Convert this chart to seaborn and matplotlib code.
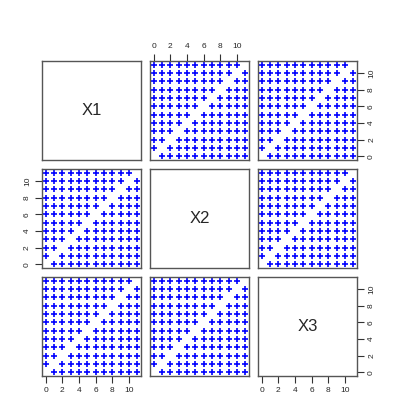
import pandas as pd
import seaborn as sns
import matplotlib
matplotlib.use('Agg')
import matplotlib.pyplot as plt

# variable names on the diagonal
var_names = ['X1', 'X2', 'X3']

# values on each axis
levels = [0, 1, 2, 3, 4, 5, 6, 7, 8, 9, 10, 11]

# cells left empty in every scatter panel (the diagonal)
gap_x = [0, 1, 2, 3, 4, 5, 6, 7, 8, 9, 10, 11]
gap_y = [0, 1, 2, 3, 4, 5, 6, 7, 8, 9, 10, 11]

tick_vals = [0, 2, 4, 6, 8, 10]

# build the point table from the grid minus the gaps
grid = pd.MultiIndex.from_product([levels, levels], names=['x', 'y']).to_frame(index=False)
gaps = pd.DataFrame({'x': gap_x, 'y': gap_y})
pts = grid.merge(gaps, how='left', indicator=True)
pts = pts[pts['_merge'] == 'left_only'][['x', 'y']]

sns.set_style('white')
plt.rcParams['font.family'] = ['Liberation Sans', 'DejaVu Sans']

fig = plt.figure(figsize=(4, 4.2), dpi=100)

lefts = [42, 150, 258]
tops = [61, 169, 277]
size = 99

for i in range(3):
    for j in range(3):
        ax = fig.add_axes([lefts[j] / 400, (420 - tops[i] - size) / 420, size / 400, size / 420])
        ax.set_xlim(-0.44, 11.44)
        ax.set_ylim(-0.44, 11.44)
        if i == j:
            ax.text(5.5, 5.5, var_names[i], ha='center', va='center', fontsize=12)
        else:
            sns.scatterplot(data=pts, x='x', y='y', ax=ax, marker='+', color='blue',
                            s=24, linewidth=1.2, legend=False)
        ax.set_xlabel('')
        ax.set_ylabel('')
        for sp in ax.spines.values():
            sp.set_visible(True)
            sp.set_color('#555555')
            sp.set_linewidth(1.0)
        ax.set_xticks(tick_vals)
        ax.set_yticks(tick_vals)
        ax.tick_params(axis='both', which='both', bottom=False, top=False, left=False, right=False,
                       labelbottom=False, labeltop=False, labelleft=False, labelright=False,
                       direction='out', length=5, width=0.8, color='#333333', labelsize=6, pad=3)
        # R pairs() axis placement
        if i == 0 and j % 2 == 1:
            ax.tick_params(axis='x', top=True, labeltop=True)
        if i == 2 and j % 2 == 0:
            ax.tick_params(axis='x', bottom=True, labelbottom=True)
        if j == 0 and i % 2 == 1:
            ax.tick_params(axis='y', left=True, labelleft=True, labelrotation=90)
        if j == 2 and i % 2 == 0:
            ax.tick_params(axis='y', right=True, labelright=True, labelrotation=90)
        for lab in ax.get_yticklabels():
            lab.set_va('center')

fig.savefig('out.png', dpi=100)
